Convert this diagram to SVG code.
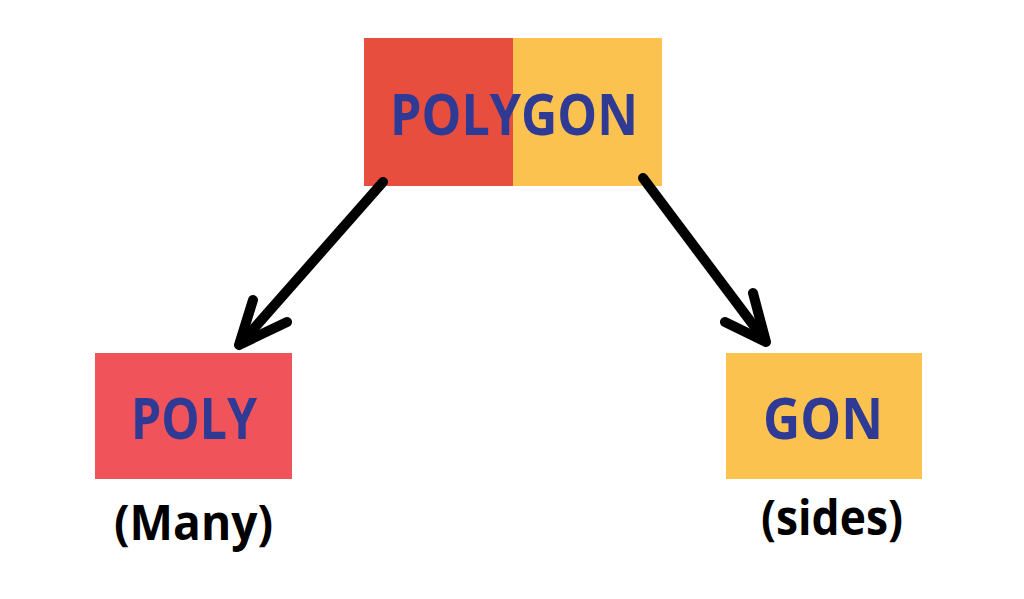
<svg xmlns="http://www.w3.org/2000/svg" width="1024" height="599" viewBox="0 0 1024 599">
<style>
.lbl{font-family:"Open Sans","Liberation Sans",sans-serif;font-weight:bold;fill:#2E3A94;font-size:57px;text-anchor:middle}
.sub{font-family:"Open Sans","Liberation Sans",sans-serif;font-weight:bold;fill:#000;font-size:49px;text-anchor:middle}
.arr{fill:none;stroke:#000;stroke-width:10;stroke-linecap:round;stroke-linejoin:round}
</style>
<rect width="1024" height="599" fill="#fff"/>
<g id="polygon">
<rect x="364" y="38" width="149" height="148" fill="#E84E3E"/>
<rect x="513" y="38" width="149" height="148" fill="#FCC250"/>
<text class="lbl" x="514" y="135" textLength="248" lengthAdjust="spacingAndGlyphs">POLYGON</text>
</g>
<g id="poly">
<rect x="95" y="353" width="197" height="126" fill="#F0535A"/>
<text class="lbl" x="194" y="439" textLength="126" lengthAdjust="spacingAndGlyphs">POLY</text>
<text class="sub" x="193.5" y="540" textLength="159" lengthAdjust="spacingAndGlyphs">(Many)</text>
</g>
<g id="gon">
<rect x="726" y="353" width="196" height="126" fill="#FCC250"/>
<text class="lbl" x="823" y="439" textLength="120" lengthAdjust="spacingAndGlyphs">GON</text>
<text class="sub" x="832" y="535" textLength="142" lengthAdjust="spacingAndGlyphs">(sides)</text>
</g>
<g id="connectors">
<path class="arr" d="M383 182 L242 342"/>
<path class="arr" d="M253 300 L239 345 L287 322"/>
<path class="arr" d="M643 178 L763 338"/>
<path class="arr" d="M753 293 L766 342 L725 322"/>
</g>
</svg>
